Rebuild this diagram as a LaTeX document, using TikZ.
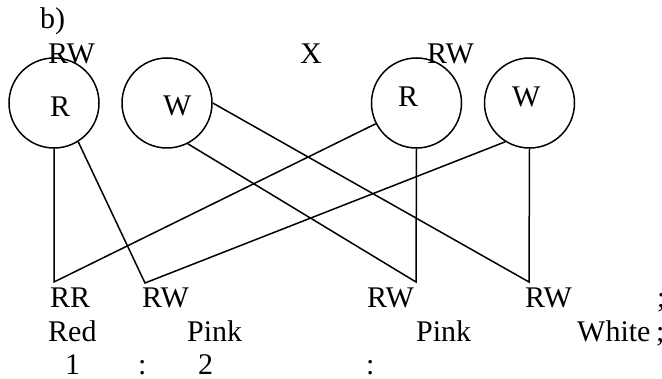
\documentclass[tikz,border=0pt]{standalone}
\usepackage{fontspec}
\setmainfont{Liberation Serif}
\begin{document}
\begin{tikzpicture}[x=1pt,y=-1pt,
  lbl/.style={anchor=base west,inner sep=0pt,font=\fontsize{30}{30}\selectfont},
  gam/.style={circle,draw,line width=1.5pt,minimum size=90pt,inner sep=0pt},
  ln/.style={line width=1.5pt}]
\useasboundingbox (0,0) rectangle (662,379);
% parent gametes
\node[gam] (c1) at (54,103) {};
\node[gam] (c2) at (167,103) {};
\node[gam] (c3) at (416.5,103) {};
\node[gam] (c4) at (529.5,103) {};
\node[lbl] (r1) at (50,117) {R};
\node[lbl] (w2) at (163,116) {W};
\node[lbl] (r3) at (398,107) {R};
\node[lbl] (w4) at (512,107) {W};
% headings
\node[lbl] (b) at (40,29) {b)};
\node[lbl] (p1) at (48,64) {RW};
\node[lbl] (x) at (300,64) {X};
\node[lbl] (p2) at (427,64) {RW};
% offspring vertices
\coordinate (o1) at (54,282);
\coordinate (o2) at (145,283);
\coordinate (o3) at (416,282);
\coordinate (o4) at (529,282);
\draw[ln] (c1.south) -- (o1) -- (c3.207);
\draw[ln] (c1.302) -- (o2) -- (c4.238);
\draw[ln] (c2.-63) -- (o3) -- (c3.south);
\draw[ln] (c2.east) -- (o4) -- (c4.south);
% offspring labels
\node[lbl] (g1) at (50,308) {RR};
\node[lbl] (g2) at (142,308) {RW};
\node[lbl] (g3) at (367,308) {RW};
\node[lbl] (g4) at (525,308) {RW};
\node[lbl] (s1) at (657,308) {;};
\node[lbl] (ph1) at (48,342) {Red};
\node[lbl] (ph2) at (187,342) {Pink};
\node[lbl] (ph3) at (416,342) {Pink};
\node[lbl] (ph4) at (577,342) {White};
\node[lbl] (s2) at (656,342) {;};
\node[lbl] (n1) at (65,375) {1};
\node[lbl] (k1) at (138,375) {:};
\node[lbl] (n2) at (198,375) {2};
\node[lbl] (k2) at (366,375) {:};
\end{tikzpicture}
\end{document}
